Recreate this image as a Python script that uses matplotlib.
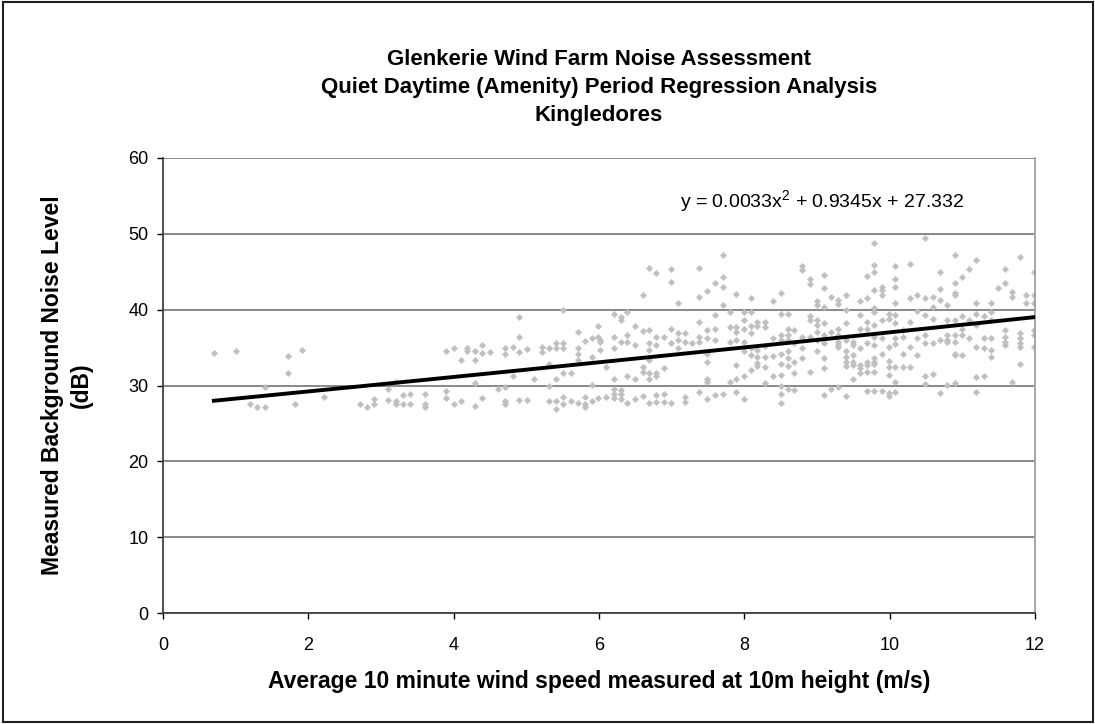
import numpy as np
import matplotlib
matplotlib.use("Agg")
import matplotlib.pyplot as plt
from matplotlib.patches import Rectangle

plt.rcParams["font.family"] = ["Liberation Sans", "DejaVu Sans"]
plt.rcParams["mathtext.fontset"] = "custom"
plt.rcParams["mathtext.rm"] = "Liberation Sans"
plt.rcParams["mathtext.it"] = "Liberation Sans"

TITLE_LINES = [
    "Glenkerie Wind Farm Noise Assessment",
    "Quiet Daytime (Amenity) Period Regression Analysis",
    "Kingledores",
]
X_LABEL = "Average 10 minute wind speed measured at 10m height (m/s)"
Y_LABEL = "Measured Background Noise Level\n(dB)"
EQUATION = r"y = 0.0033x$^{\mathrm{2}}$ + 0.9345x + 27.332"
X_TICKS = [0, 2, 4, 6, 8, 10, 12]
Y_TICKS = [0, 10, 20, 30, 40, 50, 60]

# polynomial trendline (order 2), highest power first
FIT_COEF = [0.0033, 0.9345, 27.332]
FIT_X_RANGE = [0.7, 12.0]

# measured points (wind speed m/s)
SPEED_COLS = [
    0.70, 1.00, 1.20, 1.30, 1.40, 1.72, 1.82, 1.91, 2.21, 2.71, 2.81, 2.90,
    3.10, 3.20, 3.30, 3.40, 3.60, 3.89, 4.00, 4.10, 4.19, 4.29, 4.39, 4.50,
    4.61, 4.71, 4.81, 4.90, 5.01, 5.11, 5.21, 5.31, 5.41, 5.51, 5.61, 5.71,
    5.81, 5.90, 5.99, 6.02, 6.10, 6.20, 6.30, 6.39, 6.50, 6.60, 6.69, 6.79,
    6.89, 6.99, 7.09, 7.19, 7.28, 7.38, 7.49, 7.60, 7.70, 7.80, 7.89, 7.99,
    8.09, 8.17, 8.28, 8.40, 8.50, 8.60, 8.69, 8.79, 8.90, 9.00, 9.10, 9.19,
    9.29, 9.40, 9.49, 9.59, 9.69, 9.78, 9.89, 9.99, 10.08, 10.19, 10.28, 10.38,
    10.49, 10.59, 10.69, 10.79, 10.90, 11.00, 11.09, 11.19, 11.30, 11.39, 11.49,
    11.59, 11.69, 11.79, 11.88, 11.99,
]
# background noise level (dB) at each of the speeds above
NOISE_COLS = [
    [34.3], [34.5], [27.6], [27.1], [27.1, 29.8], [33.9, 31.6], [27.5], [34.7],
    [28.5], [27.6], [27.2], [28.2, 27.6],
    [29.5, 28.1], [30.5, 27.9, 27.6], [28.7, 27.6], [28.9, 27.5],
    [28.9, 27.5, 27.2], [34.5, 29.3, 28.3], [35.0, 27.5], [33.4, 27.9],
    [35.0, 34.6], [34.5, 33.3, 30.3, 27.3], [35.4, 34.3, 28.3], [34.4],
    [29.5], [34.9, 34.2, 29.8, 28.0, 27.6], [35.1, 31.3], [39.0, 36.4, 34.4, 28.1],
    [34.8, 28.1], [30.9], [35.1, 34.4], [34.9, 32.9, 29.9, 28.0],
    [35.6, 34.9, 30.9, 28.0, 26.9], [40.0, 35.6, 34.9, 31.6, 28.5, 27.6],
    [31.6, 28.0], [37.0, 34.9, 34.2, 33.4, 27.7],
    [35.9, 28.5, 27.6, 27.2], [36.2, 33.8, 30.1, 28.0], [37.8, 36.4, 28.3],
    [36.0, 35.8, 34.7], [32.5, 28.5],
    [39.4, 36.4, 34.9, 30.9, 29.6, 28.9, 28.3],
    [39.0, 38.6, 35.8, 29.4, 28.9, 28.2],
    [39.7, 36.7, 35.8, 31.2, 27.7],
    [37.8, 35.3, 30.9, 28.2],
    [41.9, 37.2, 32.5, 31.8, 28.6],
    [45.5, 37.3, 35.6, 34.7, 33.3, 31.6, 30.9, 27.7],
    [44.8, 36.4, 35.3, 31.6, 31.2, 28.7, 27.8],
    [36.4, 32.3, 28.9, 27.8],
    [45.3, 43.6, 37.5, 35.6, 27.7],
    [40.9, 36.9, 36.0, 35.0],
    [36.9, 35.8, 28.5, 27.8],
    [35.6],
    [45.5, 41.7, 38.4, 36.4, 35.8, 29.2],
    [42.4, 37.3, 36.2, 34.2, 33.1, 30.9, 30.5, 28.2],
    [43.5, 39.3, 37.5, 36.0, 28.7],
    [47.2, 44.3, 43.0, 40.6, 28.9],
    [39.7, 37.7, 35.8, 30.4],
    [42.1, 37.7, 37.1, 36.0, 32.7, 30.9, 29.2],
    [39.7, 38.6, 37.5, 35.8, 34.5, 31.2, 28.2],
    [41.5, 39.7, 37.8, 36.9, 34.9, 34.0, 32.1],
    [38.4, 37.8, 34.7, 33.8, 33.0, 32.6],
    [38.4, 37.7, 35.2, 33.8, 32.5, 30.3],
    [41.1, 36.2, 33.9, 31.2],
    [42.2, 39.4, 36.7, 36.0, 34.2, 32.9, 31.4, 29.9, 28.9, 27.7],
    [39.4, 37.4, 36.7, 36.0, 34.5, 33.6, 32.6, 29.6],
    [37.3, 35.6, 33.1, 31.6, 29.4],
    [45.7, 45.2, 36.4, 34.9, 33.6],
    [44.0, 43.4, 39.1, 38.6, 36.4, 31.8],
    [41.2, 40.6, 38.6, 38.0, 37.1, 36.0, 34.5],
    [44.6, 42.8, 40.4, 38.2, 36.7, 35.6, 33.6, 32.3, 28.7],
    [41.7, 37.1, 29.6],
    [41.3, 40.7, 37.5, 36.7, 35.8, 35.3, 35.1, 29.8],
    [41.9, 39.9, 38.2, 36.0, 34.5, 33.8, 33.1, 32.6, 28.6],
    [35.8, 35.3, 34.0, 33.1, 32.7, 30.9],
    [41.1, 39.3, 37.5, 34.9, 32.7, 32.3, 31.6],
    [44.4, 41.6, 38.4, 37.5, 35.6, 33.1, 32.7, 31.8, 29.3],
    [48.8, 45.9, 45.0, 42.6, 40.2, 39.7, 38.0, 36.4, 35.3, 33.6, 33.1, 32.9, 31.8, 29.3],
    [43.0, 42.6, 41.9, 38.6, 36.2, 34.2, 29.3],
    [39.4, 38.8, 35.1, 33.2, 32.4, 31.4, 29.0, 28.6],
    [45.8, 44.1, 43.0, 40.9, 39.3, 38.2, 36.2, 35.5, 32.4, 30.4, 29.2],
    [37.3, 36.4, 34.2, 32.4],
    [46.0, 41.6, 38.4, 35.1, 32.4],
    [41.9, 39.8, 36.2, 34.0],
    [49.5, 41.5, 39.3, 36.7, 35.6, 31.2, 30.2],
    [41.7, 40.4, 38.8, 35.6, 31.5],
    [45.0, 42.7, 41.3, 36.0, 29.0],
    [40.6, 38.6, 36.7, 36.0, 35.8, 30.1],
    [47.2, 43.5, 42.2, 41.9, 38.6, 36.7, 35.8, 34.2, 34.0, 30.3],
    [44.3, 39.1, 37.5, 36.7, 34.0],
    [45.3, 38.6, 36.2],
    [46.5, 40.9, 39.4, 38.0, 35.1, 31.1, 29.1],
    [39.2, 36.2, 34.9, 31.3],
    [40.9, 39.7, 38.6, 36.2, 34.7, 33.8],
    [42.8],
    [45.3, 43.5, 37.3, 36.4, 35.8, 35.3],
    [42.3, 41.7, 30.5],
    [46.9, 36.9, 36.2, 35.6, 35.1, 32.9],
    [41.9, 40.9],
    [45.0, 41.9, 40.9, 37.3, 36.7, 35.1],
]

speed = np.concatenate([np.full(len(ys), x) for x, ys in zip(SPEED_COLS, NOISE_COLS)])
noise = np.concatenate(NOISE_COLS)

W, H = 1095, 724
fig = plt.figure(figsize=(W / 100, H / 100), dpi=100)
# chart-area frame round the whole picture
fig.patches.append(Rectangle((3 / W, 2 / H), 1090 / W, 720 / H, transform=fig.transFigure,
                             fill=False, edgecolor="#202020", lw=1.5))

ax = fig.add_axes([163 / W, 1 - 613 / H, 872 / W, 455 / H])
ax.scatter(speed, noise, marker="D", s=13, color="#c0c0c0", linewidths=0, zorder=2)
xf = np.linspace(FIT_X_RANGE[0], FIT_X_RANGE[1], 200)
ax.plot(xf, np.polyval(FIT_COEF, xf), color="black", lw=2.8, zorder=3)

ax.set_xlim(0, 12)
ax.set_ylim(0, 60)
ax.set_xticks(X_TICKS)
ax.set_yticks(Y_TICKS)
ax.yaxis.grid(True, color="#808080", lw=1.3, zorder=1)
ax.set_axisbelow(True)
ax.spines["top"].set_visible(False)
ax.spines["right"].set_color("#a0a0a0")
ax.spines["right"].set_linewidth(1.3)
for s in ("left", "bottom"):
    ax.spines[s].set_color("#404040")
    ax.spines[s].set_linewidth(1.3)
ax.tick_params(axis="x", direction="out", length=4.5, width=1, pad=13, labelsize=13)
ax.tick_params(axis="y", direction="out", length=4, width=1, pad=6.5, labelsize=13)

fig.text(599 / W, 1 - 688 / H, X_LABEL, ha="center", va="baseline",
         fontsize=16.5, fontweight="bold")
fig.text(67 / W, 1 - 385 / H, Y_LABEL, ha="center", va="center", rotation=90,
         fontsize=16.5, fontweight="bold", multialignment="center", linespacing=1.3)

for i, line in enumerate(TITLE_LINES):
    fig.text(599 / W, 1 - (65 + 28 * i) / H, line, ha="center", va="baseline",
             fontsize=16, fontweight="bold")

fig.text(680 / W, 1 - 207 / H, EQUATION, ha="left", va="baseline", fontsize=14)

fig.savefig("out.png", dpi=100)
